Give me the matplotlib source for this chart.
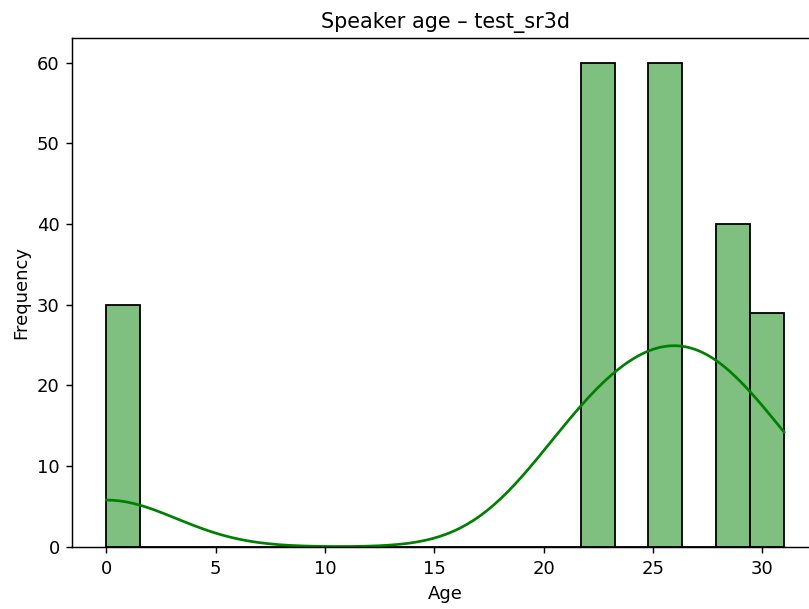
import numpy as np
import matplotlib.pyplot as plt
import seaborn as sns

# speaker ages and how many utterances each one has
ages = [0, 22, 26, 28, 31]
counts = [30, 60, 60, 40, 29]
age_values = np.repeat(ages, counts)

fig, ax = plt.subplots(figsize=(809 / 130, 609 / 130), dpi=130)
fig.subplots_adjust(left=0.0895, right=1.011, top=0.937, bottom=0.102)

sns.histplot(age_values, bins=20, kde=True, color='green', ax=ax)
ax.set_title('Speaker age \u2013 test_sr3d', fontsize=11.5)
ax.set_xlabel('Age')
ax.set_ylabel('Frequency')

fig.savefig('out.png', dpi=130)
